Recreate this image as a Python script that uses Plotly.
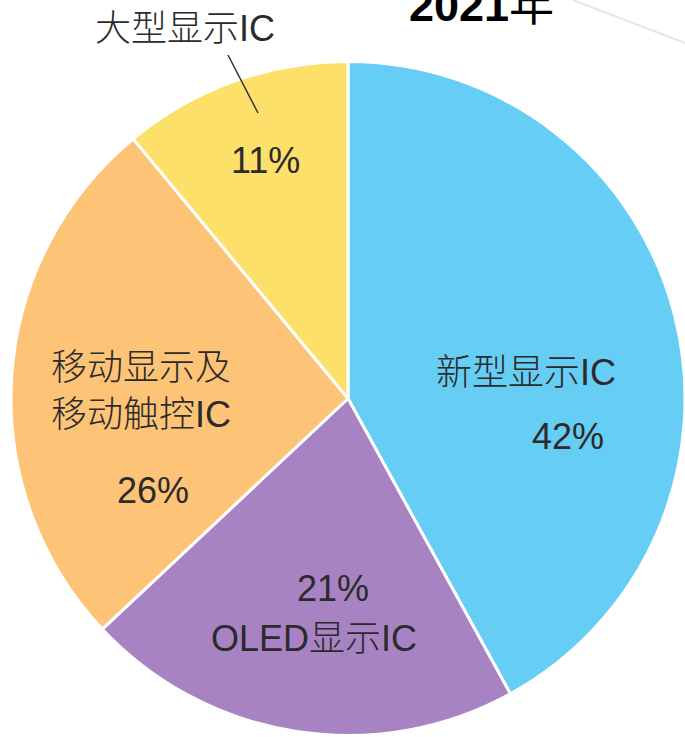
import plotly.graph_objects as go

W, H = 685, 737

# ---- data ----
labels = ["新型显示IC", "OLED显示IC", "移动显示及<br>移动触控IC", "大型显示IC"]
values = [42, 21, 26, 11]
colors = ["#66CDF5", "#A883C4", "#FDC377", "#FDE06A"]
title_year = "2021"
title_suffix = "年"

def px(x):
    return x / W

def py(y):
    return 1 - y / H

fig = go.Figure()
fig.add_trace(go.Pie(
    labels=labels,
    values=values,
    sort=False,
    direction="clockwise",
    rotation=0,
    marker=dict(colors=colors, line=dict(color="white", width=3)),
    textinfo="none",
    hoverinfo="label+percent",
    showlegend=False,
    domain=dict(x=[px(11), 1.0], y=[py(737), py(60)]),
))

FAM = "Liberation Sans, Noto Sans CJK SC, sans-serif"
font_main = dict(family=FAM, size=36, color="#2b2b2b", weight=300)

# label / percent placement (pixels)
label_pos = [(526, 372), (314, 638), (141, 391), (185, 28)]
pct_pos = [(568, 436), (333, 588), (153, 490), (265, 160)]

ann = []
for lab, val, (lx, ly), (qx, qy) in zip(labels, values, label_pos, pct_pos):
    ann.append(dict(x=px(lx), y=py(ly), xref="paper", yref="paper", text=lab,
                    showarrow=False, font=font_main, xanchor="center", yanchor="middle",
                    align="left"))
    ann.append(dict(x=px(qx), y=py(qy), xref="paper", yref="paper", text=f"{val}%",
                    showarrow=False, font=font_main, xanchor="center", yanchor="middle"))

ann.append(dict(x=px(481), y=py(6), xref="paper", yref="paper",
                text=f"<b>{title_year}</b>{title_suffix}",
                showarrow=False, xanchor="center", yanchor="middle",
                font=dict(family=FAM, size=45, color="#000000")))

shapes = [
    dict(type="line", xref="paper", yref="paper", x0=px(228), y0=py(55), x1=px(258), y1=py(113),
         line=dict(color="#333333", width=1.5)),
    dict(type="line", xref="paper", yref="paper", x0=px(573), y0=py(0), x1=px(685), y1=py(43),
         line=dict(color="#e6e6e6", width=2)),
]

fig.update_layout(
    width=W, height=H,
    margin=dict(l=0, r=0, t=0, b=0),
    paper_bgcolor="white",
    plot_bgcolor="white",
    annotations=ann,
    shapes=shapes,
)

fig.write_html("out.html", config={"displayModeBar": False},
               post_script="document.body.style.margin='0';document.body.style.padding='0';document.body.style.overflow='hidden';")
